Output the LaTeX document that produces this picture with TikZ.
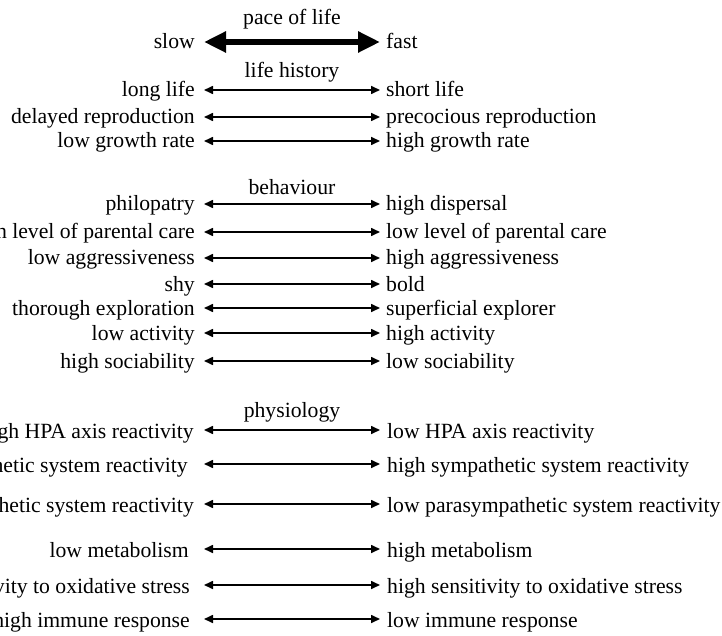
\documentclass[tikz,border=0pt]{standalone}
\usepackage{fontspec}
\newfontfamily\tms{Liberation Serif}
\usetikzlibrary{arrows.meta,calc}
\begin{document}
\begin{tikzpicture}[x=1pt,y=-1pt,
  txt/.style={inner sep=0pt,font=\tms\fontsize{21.7}{26}\selectfont},
  lt/.style={txt,anchor=base east},
  rt/.style={txt,anchor=base west},
  hd/.style={txt,anchor=base},
  arr/.style={line width=1.6pt,{Triangle[length=9pt,width=8pt]}-{Triangle[length=9pt,width=8pt]}},
  bigarr/.style={line width=6pt,{Triangle[length=22pt,width=20pt]}-{Triangle[length=22pt,width=20pt]}}]
\useasboundingbox (0,0) rectangle (722,636);
\clip (0,0) rectangle (722,636);
% headings
\node[hd] (h1) at (292,25) {pace of life};
\node[hd] (h2) at (292,78) {life history};
\node[hd] (h3) at (292,195) {behaviour};
\node[hd] (h4) at (292,417) {physiology};
% pace of life
\node[lt] (l0) at (195,49) {slow};
\node[rt] (r0) at (386,49) {fast};
\draw[bigarr] let \p1=(l0.base east) in (204pt,\y1+7pt) -- (380pt,\y1+7pt);
% life history
\node[lt] (l1) at (195,97) {long life};
\node[rt] (r1) at (386,97) {short life};
\node[lt] (l2) at (195,124) {delayed reproduction};
\node[rt] (r2) at (386,124) {precocious reproduction};
\node[lt] (l3) at (195,148) {low growth rate};
\node[rt] (r3) at (386,148) {high growth rate};
% behaviour
\node[lt] (l4) at (195,211) {philopatry};
\node[rt] (r4) at (386,211) {high dispersal};
\node[lt] (l5) at (195,239) {high level of parental care};
\node[rt] (r5) at (386,239) {low level of parental care};
\node[lt] (l6) at (195,265) {low aggressiveness};
\node[rt] (r6) at (386,265) {high aggressiveness};
\node[lt] (l7) at (195,291) {shy};
\node[rt] (r7) at (386,291) {bold};
\node[lt] (l8) at (195,315) {thorough exploration};
\node[rt] (r8) at (386,315) {superficial explorer};
\node[lt] (l9) at (195,340) {low activity};
\node[rt] (r9) at (386,340) {high activity};
\node[lt] (l10) at (195,368) {high sociability};
\node[rt] (r10) at (386,368) {low sociability};
\foreach \i in {1,...,10}{
  \draw[arr] let \p1=(l\i.base east) in (204pt,\y1+7pt) -- (380pt,\y1+7pt);
}
% physiology
\node[lt] (l11) at (194,438) {high HPA axis reactivity};
\node[rt] (r11) at (387,438) {low HPA axis reactivity};
\node[lt] (l12) at (188,472) {low sympathetic system reactivity};
\node[rt] (r12) at (387,472) {high sympathetic system reactivity};
\node[lt] (l13) at (194,512) {high parasympathetic system reactivity};
\node[rt] (r13) at (387,512) {low parasympathetic system reactivity};
\node[lt] (l14) at (189,557) {low metabolism};
\node[rt] (r14) at (387,557) {high metabolism};
\node[lt] (l15) at (190,593) {low sensitivity to oxidative stress};
\node[rt] (r15) at (387,593) {high sensitivity to oxidative stress};
\node[lt] (l16) at (190,627) {high immune response};
\node[rt] (r16) at (387,627) {low immune response};
\foreach \i in {11,...,16}{
  \draw[arr] let \p1=(l\i.base east) in (204pt,\y1+8pt) -- (380pt,\y1+8pt);
}
\end{tikzpicture}
\end{document}
